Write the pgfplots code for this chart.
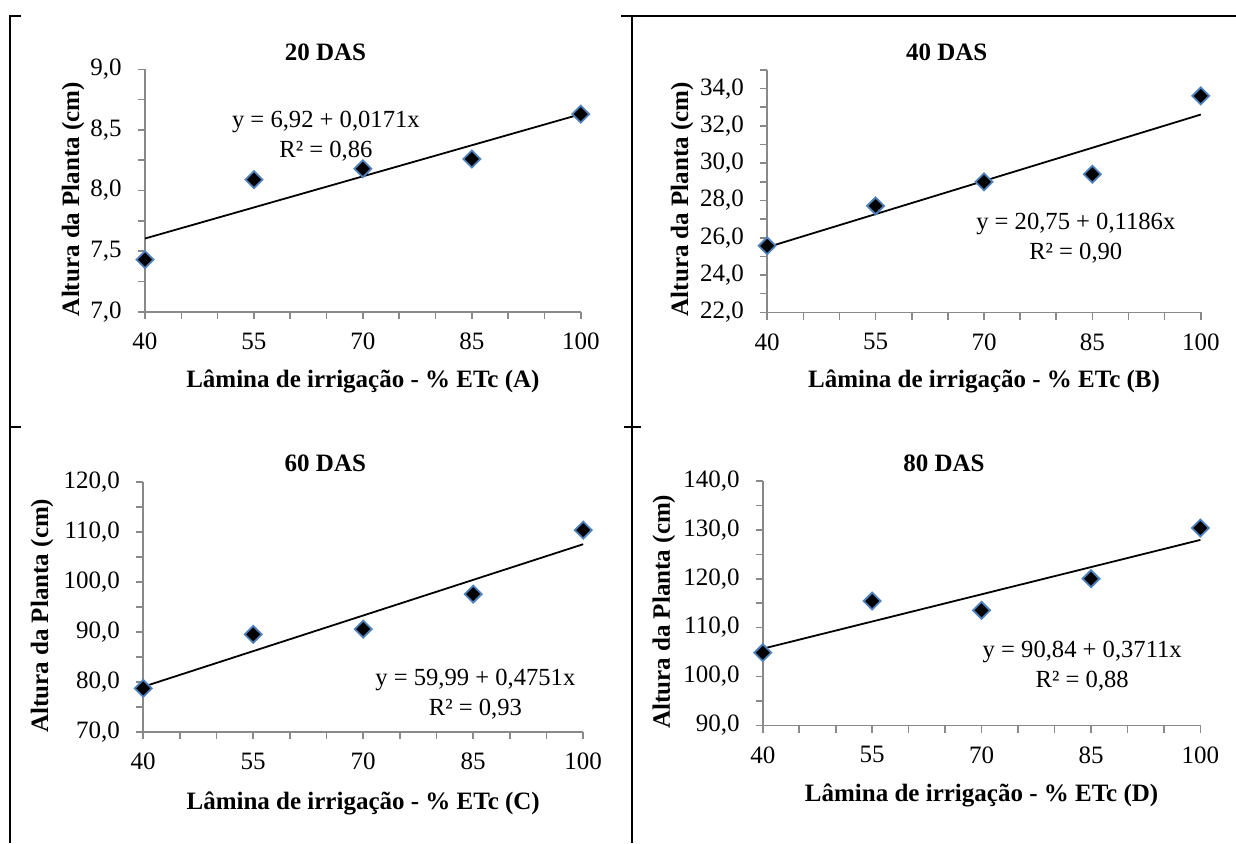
\documentclass[border=0pt]{standalone}
\usepackage{fontspec}
\setmainfont{Liberation Serif}
\usepackage{pgfplots}
\pgfplotsset{compat=1.18}

\definecolor{axgray}{HTML}{898989}
\definecolor{mkblue}{HTML}{4F81BD}

\pgfplotsset{
  every axis title shift=0pt,
  panel/.style={
    scale only axis, anchor=south west, clip=false,
    axis x line*=bottom, axis y line*=left,
    axis line style={draw=axgray, line width=0.8pt},
    tick style={draw=axgray, line width=0.8pt},
    tick align=outside,
    major tick length=3.6pt, minor tick length=3.6pt,
    xmin=40, xmax=100,
    xtick={40,55,70,85,100}, minor xtick={45,50,60,65,75,80,90,95},
    /pgf/number format/assume math mode=true,
    tick label style={font=\fontsize{12.5}{14}\selectfont, text=black},
    xticklabel style={yshift=-3.5pt},
    yticklabel style={xshift=-4.5pt, /pgf/number format/.cd, fixed, fixed zerofill, precision=1, use comma},
    title style={font=\bfseries\fontsize{12.5}{14}\selectfont, at={(axis description cs:0.414,1.072)}, anchor=center},
    xlabel style={font=\bfseries\fontsize{12.5}{14}\selectfont, at={(axis description cs:0.5,-0.286)}, anchor=center},
    ylabel style={font=\bfseries\fontsize{12.5}{14}\selectfont, anchor=center},
  },
  pts/.style={only marks, mark=square*, mark size=3pt,
    mark options={rotate=45, fill=black, draw=mkblue, line width=0.9pt}},
  fit/.style={black, line width=0.9pt, no marks},
}
\tikzset{eq/.style={align=center, font=\fontsize{12.3}{15}\selectfont}}

\begin{document}
\begin{tikzpicture}
\useasboundingbox (0,0) rectangle (618pt,-421.5pt);

% table borders
\draw[line width=1pt] (10.5pt,-8pt) -- (4.9pt,-8pt) -- (4.9pt,-421.5pt);
\draw[line width=1pt] (4.9pt,-213.5pt) -- (10.5pt,-213.5pt);
\draw[line width=1pt] (310.5pt,-8pt) -- (618pt,-8pt);
\draw[line width=1pt] (315.85pt,-8pt) -- (315.85pt,-421.5pt);
\draw[line width=1pt] (312pt,-213.6pt) -- (320.5pt,-213.6pt);

% (A) 20 DAS
\begin{axis}[panel, at={(72.5pt,-155.85pt)}, width=217.9pt, height=121.2pt,
  ymin=7, ymax=9, ytick={7,7.5,...,9}, minor ytick={7.25,7.75,8.25,8.75},
  title={20 DAS}, xlabel={Lâmina de irrigação - \% ETc (A)}, ylabel={Altura da Planta (cm)},
  ylabel style={at={(axis description cs:-0.165,0.465)}}]
\addplot[fit] coordinates {(40,7.604) (100,8.630)};
\addplot[pts] coordinates {(40,7.43) (55,8.09) (70,8.18) (85,8.26) (100,8.63)};
\node[eq] at (axis cs:64.9,8.444) {y = 6,92 + 0,0171x\\R² = 0,86};
\end{axis}

% (B) 40 DAS
\begin{axis}[panel, at={(383.6pt,-156.15pt)}, width=216.8pt, height=121.15pt,
  ymin=22, ymax=35, ytick={22,24,...,34}, minor ytick={23,25,...,35},
  title={40 DAS}, xlabel={Lâmina de irrigação - \% ETc (B)}, ylabel={Altura da Planta (cm)},
  ylabel style={at={(axis description cs:-0.196,0.467)}}]
\addplot[fit] coordinates {(40,25.49) (100,32.61)};
\addplot[pts] coordinates {(40,25.57) (55,27.71) (70,29.0) (85,29.41) (100,33.61)};
\node[eq] at (axis cs:82.7,25.97) {y = 20,75 + 0,1186x\\R² = 0,90};
\end{axis}

% (C) 60 DAS
\begin{axis}[panel, at={(71.6pt,-365.85pt)}, width=220pt, height=125pt,
  ymin=70, ymax=120, ytick={70,80,...,120}, minor ytick={75,85,...,115},
  title={60 DAS}, xlabel={Lâmina de irrigação - \% ETc (C)}, ylabel={Altura da Planta (cm)},
  ylabel style={at={(axis description cs:-0.23,0.464)}}]
\addplot[fit] coordinates {(40,78.99) (100,107.50)};
\addplot[pts] coordinates {(40,78.67) (55,89.47) (70,90.53) (85,97.53) (100,110.33)};
\node[eq] at (axis cs:85.3,77.54) {y = 59,99 + 0,4751x\\R² = 0,93};
\end{axis}

% (D) 80 DAS
\begin{axis}[panel, at={(381.4pt,-362.65pt)}, width=218.8pt, height=122.15pt,
  ymin=90, ymax=140, ytick={90,100,...,140}, minor ytick={95,105,...,135},
  title={80 DAS}, xlabel={Lâmina de irrigação - \% ETc (D)}, ylabel={Altura da Planta (cm)},
  ylabel style={at={(axis description cs:-0.226,0.465)}}]
\addplot[fit] coordinates {(40,105.68) (100,127.95)};
\addplot[pts] coordinates {(40,104.87) (55,115.44) (70,113.53) (85,120.0) (100,130.38)};
\node[eq] at (axis cs:83.8,102.1) {y = 90,84 + 0,3711x\\R² = 0,88};
\end{axis}
\end{tikzpicture}
\end{document}
